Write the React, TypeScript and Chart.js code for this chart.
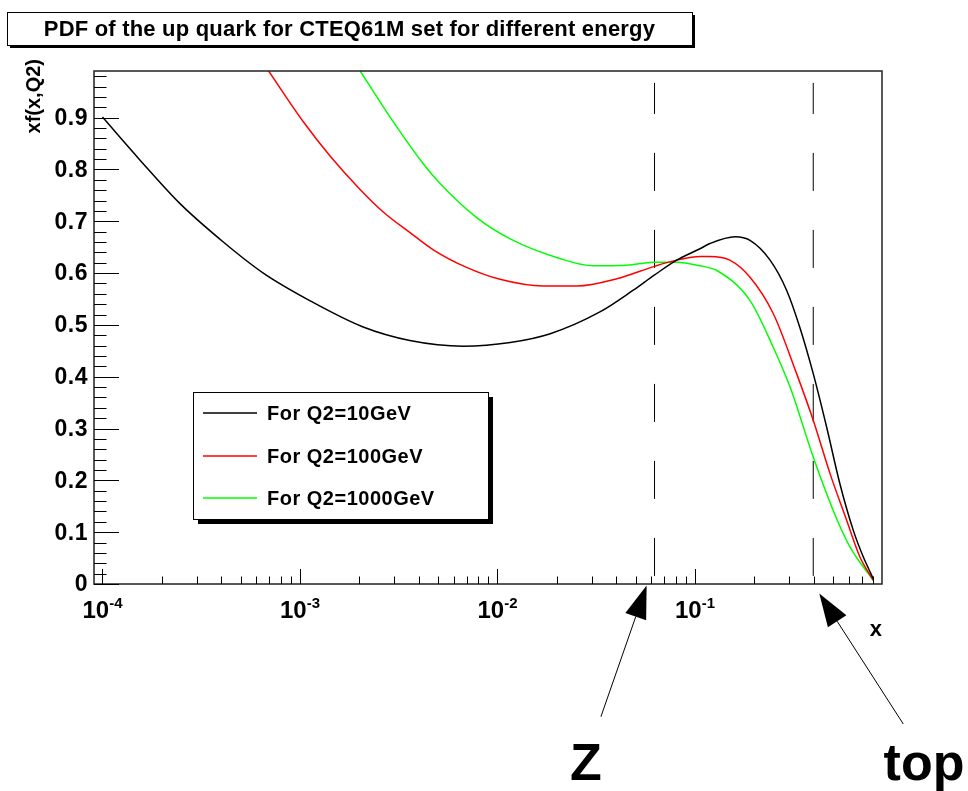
import React, { useEffect, useRef } from "react";
import { Chart, registerables } from "chart.js";

Chart.register(...registerables);

const TITLE = "PDF of the up quark for CTEQ61M set for different energy";
const Y_TITLE = "xf(x,Q2)";
const X_TITLE = "x";
const SERIES_LABELS = ["For Q2=10GeV", "For Q2=100GeV", "For Q2=1000GeV"];
const SERIES_COLORS = ["#000000", "#ff0000", "#00ff00"];

const X_Q10 = [1.0e-4, 1.55e-4, 2.47e-4, 4.09e-4, 6.52e-4, 1.12e-3, 2.09e-3, 3.6e-3, 6.7e-3, 1.16e-2, 1.85e-2, 3.3e-2, 4.87e-2, 6.22e-2, 8.08e-2, 0.106, 0.119, 0.16, 0.19, 0.24, 0.291, 0.339, 0.397, 0.464, 0.542, 0.634, 0.712, 0.8];
const Y_Q10 = [0.901, 0.818, 0.734, 0.66, 0.6, 0.547, 0.496, 0.47, 0.459, 0.466, 0.483, 0.525, 0.567, 0.596, 0.625, 0.647, 0.657, 0.67, 0.663, 0.625, 0.567, 0.496, 0.406, 0.303, 0.193, 0.103, 0.052, 0.01];

const X_Q100 = [6.91e-4, 1.04e-3, 1.42e-3, 2.01e-3, 2.64e-3, 3.61e-3, 4.73e-3, 6.98e-3, 1.03e-2, 1.71e-2, 2.52e-2, 4.02e-2, 6.22e-2, 8.08e-2, 0.106, 0.119, 0.15, 0.19, 0.249, 0.327, 0.397, 0.483, 0.586, 0.684, 0.8];
const Y_Q100 = [0.991, 0.892, 0.826, 0.762, 0.718, 0.678, 0.645, 0.611, 0.588, 0.575, 0.575, 0.589, 0.613, 0.625, 0.632, 0.632, 0.625, 0.592, 0.522, 0.406, 0.316, 0.213, 0.123, 0.052, 0.007];

const X_Q1000 = [2.01e-3, 2.86e-3, 4.21e-3, 5.12e-3, 7.85e-3, 1.16e-2, 2.07e-2, 3.05e-2, 4.51e-2, 6.15e-2, 8.08e-2, 0.106, 0.129, 0.19, 0.249, 0.303, 0.397, 0.501, 0.61, 0.8];
const Y_Q1000 = [0.991, 0.901, 0.811, 0.773, 0.707, 0.666, 0.628, 0.614, 0.615, 0.621, 0.621, 0.614, 0.605, 0.547, 0.457, 0.38, 0.245, 0.142, 0.071, 0.007];

const X_MIN = 9.06e-5;
const X_MAX = 0.885;
const Y_MIN = 0;
const Y_MAX = 0.99;
const Y_TICKS = [0, 0.1, 0.2, 0.3, 0.4, 0.5, 0.6, 0.7, 0.8, 0.9];
const Y_TICK_LABELS = ["0", "0.1", "0.2", "0.3", "0.4", "0.5", "0.6", "0.7", "0.8", "0.9"];
const X_DECADES = [-4, -3, -2, -1];
const X_DECADE_LABELS = ["-4", "-3", "-2", "-1"];

// vertical dashed marker lines (Z and top)
const MARKER_X = [0.0624, 0.397];
const MARKER_Y_TOP = 0.967;
const ANNOTATION_TEXT = ["Z", "top"];
const ARROW_TIP_X = [0.0569, 0.426];

const FONT = "'Liberation Sans', Arial, Helvetica, sans-serif";

function pair(xs: number[], ys: number[]) {
  return xs.map((x, i) => ({ x, y: ys[i] }));
}

function drawArrow(ctx: CanvasRenderingContext2D, x0: number, y0: number, x1: number, y1: number) {
  const dx = x1 - x0;
  const dy = y1 - y0;
  const len = Math.hypot(dx, dy);
  const ux = dx / len;
  const uy = dy / len;
  const hl = 33;
  const hw = 11;
  const bx = x1 - ux * hl;
  const by = y1 - uy * hl;
  ctx.beginPath();
  ctx.moveTo(x0, y0);
  ctx.lineTo(bx, by);
  ctx.strokeStyle = "#000";
  ctx.lineWidth = 1;
  ctx.stroke();
  ctx.beginPath();
  ctx.moveTo(x1, y1);
  ctx.lineTo(bx - uy * hw, by + ux * hw);
  ctx.lineTo(bx + uy * hw, by - ux * hw);
  ctx.closePath();
  ctx.fillStyle = "#000";
  ctx.fill();
}

function setSpacing(ctx: any, px: number) {
  if ("letterSpacing" in ctx) ctx.letterSpacing = `${px}px`;
}

const rootPlugin = {
  id: "rootStyle",
  afterDraw(chart: any) {
    const { ctx, chartArea: a, scales } = chart;
    const xs = scales.x;
    const ys = scales.y;
    ctx.save();

    // frame
    ctx.strokeStyle = "#222";
    ctx.lineWidth = 1.5;
    ctx.strokeRect(a.left, a.top, a.right - a.left, a.bottom - a.top);

    // y ticks (inside)
    ctx.strokeStyle = "#000";
    ctx.lineWidth = 1;
    const nMinor = Math.floor(Y_MAX / 0.02 + 1e-6);
    for (let i = 0; i <= nMinor; i++) {
      const v = i * 0.02;
      const py = Math.round(ys.getPixelForValue(v)) + 0.5;
      const len = i % 5 === 0 ? 25 : 12.5;
      ctx.beginPath();
      ctx.moveTo(a.left, py);
      ctx.lineTo(a.left + len, py);
      ctx.stroke();
    }
    // y labels
    ctx.fillStyle = "#000";
    ctx.font = `bold 23px ${FONT}`;
    setSpacing(ctx, 0.5);
    ctx.textAlign = "right";
    ctx.textBaseline = "middle";
    Y_TICKS.forEach((v, i) => {
      ctx.fillText(Y_TICK_LABELS[i], a.left - 6, ys.getPixelForValue(v) + 1);
    });
    setSpacing(ctx, 0);

    // x ticks (inside)
    for (let d = -5; d <= 0; d++) {
      for (let m = 1; m <= 9; m++) {
        const v = m * Math.pow(10, d);
        if (v < X_MIN || v > X_MAX) continue;
        const px = Math.round(xs.getPixelForValue(v)) + 0.5;
        const len = m === 1 ? 15 : 7.5;
        ctx.beginPath();
        ctx.moveTo(px, a.bottom);
        ctx.lineTo(px, a.bottom - len);
        ctx.stroke();
      }
    }
    // x labels 10^n
    X_DECADES.forEach((d, i) => {
      const px = xs.getPixelForValue(Math.pow(10, d));
      ctx.font = `bold 24px ${FONT}`;
      const w1 = ctx.measureText("10").width;
      ctx.font = `bold 15px ${FONT}`;
      const w2 = ctx.measureText(X_DECADE_LABELS[i]).width;
      const x0 = px - (w1 + w2) / 2;
      ctx.textAlign = "left";
      ctx.textBaseline = "alphabetic";
      ctx.font = `bold 24px ${FONT}`;
      ctx.fillText("10", x0, a.bottom + 34);
      ctx.font = `bold 15px ${FONT}`;
      ctx.fillText(X_DECADE_LABELS[i], x0 + w1, a.bottom + 24);
    });

    // axis titles
    ctx.font = `bold 22px ${FONT}`;
    ctx.textAlign = "right";
    ctx.textBaseline = "alphabetic";
    ctx.fillText(X_TITLE, a.right, a.bottom + 52);
    ctx.save();
    ctx.translate(40, a.top - 12);
    ctx.rotate(-Math.PI / 2);
    ctx.textAlign = "right";
    ctx.font = `bold 20px ${FONT}`;
    ctx.fillText(Y_TITLE, 0, 0);
    ctx.restore();

    // title box
    const tb = { l: 7, t: 12, r: 692, b: 45 };
    ctx.fillStyle = "#000";
    ctx.fillRect(tb.l + 3, tb.t + 3, tb.r - tb.l, tb.b - tb.t);
    ctx.fillStyle = "#fff";
    ctx.fillRect(tb.l, tb.t, tb.r - tb.l, tb.b - tb.t);
    ctx.strokeStyle = "#000";
    ctx.lineWidth = 1;
    ctx.strokeRect(tb.l + 0.5, tb.t + 0.5, tb.r - tb.l, tb.b - tb.t);
    ctx.fillStyle = "#000";
    ctx.font = `bold 22px ${FONT}`;
    setSpacing(ctx, 0.2);
    ctx.textAlign = "center";
    ctx.textBaseline = "middle";
    ctx.fillText(TITLE, (tb.l + tb.r) / 2, (tb.t + tb.b) / 2 + 1);
    setSpacing(ctx, 0);

    // legend box
    const lb = { l: 193, t: 392, r: 488, b: 519 };
    ctx.fillStyle = "#000";
    ctx.fillRect(lb.l + 5, lb.t + 5, lb.r - lb.l, lb.b - lb.t);
    ctx.fillStyle = "#fff";
    ctx.fillRect(lb.l, lb.t, lb.r - lb.l, lb.b - lb.t);
    ctx.strokeStyle = "#000";
    ctx.strokeRect(lb.l + 0.5, lb.t + 0.5, lb.r - lb.l, lb.b - lb.t);
    const rowY = [413, 456, 498];
    SERIES_LABELS.forEach((lab, i) => {
      ctx.strokeStyle = SERIES_COLORS[i];
      ctx.lineWidth = 1.5;
      ctx.beginPath();
      ctx.moveTo(203, rowY[i]);
      ctx.lineTo(257, rowY[i]);
      ctx.stroke();
      ctx.fillStyle = "#000";
      ctx.font = `bold 20px ${FONT}`;
      setSpacing(ctx, 0.5);
      ctx.textAlign = "left";
      ctx.textBaseline = "middle";
      ctx.fillText(lab, 267, rowY[i] + 1);
      setSpacing(ctx, 0);
    });

    // arrows + annotation text
    const tails = [
      { dx: -45.7, y: 716.7 },
      { dx: 84, y: 724 },
    ];
    const tipY = [a.bottom + 1.5, a.bottom + 9.5];
    ARROW_TIP_X.forEach((v, i) => {
      const tx = xs.getPixelForValue(v);
      drawArrow(ctx, tx + tails[i].dx, tails[i].y, tx, tipY[i]);
    });
    ctx.fillStyle = "#000";
    ctx.font = `bold 52px ${FONT}`;
    ctx.textAlign = "center";
    ctx.textBaseline = "alphabetic";
    ctx.fillText(ANNOTATION_TEXT[0], 586, 780);
    ctx.fillText(ANNOTATION_TEXT[1], 924, 780);

    ctx.restore();
  },
};

export default function App() {
  const ref = useRef<HTMLCanvasElement>(null);
  useEffect(() => {
    const canvas = ref.current;
    if (!canvas) return;
    const lineDs = (label: string, xsArr: number[], ysArr: number[], color: string) => ({
      label,
      data: pair(xsArr, ysArr),
      borderColor: color,
      backgroundColor: color,
      borderWidth: 1.5,
      pointRadius: 0,
      fill: false,
      cubicInterpolationMode: "monotone" as const,
    });
    const markerDs = (x: number) => ({
      label: "marker",
      data: [
        { x, y: MARKER_Y_TOP },
        { x, y: Y_MIN },
      ],
      borderColor: "#000",
      borderWidth: 1,
      borderDash: [38, 39],
      borderDashOffset: 7,
      pointRadius: 0,
      fill: false,
    });
    const chart = new Chart(canvas, {
      type: "line",
      data: {
        datasets: [
          lineDs(SERIES_LABELS[0], X_Q10, Y_Q10, SERIES_COLORS[0]),
          lineDs(SERIES_LABELS[1], X_Q100, Y_Q100, SERIES_COLORS[1]),
          lineDs(SERIES_LABELS[2], X_Q1000, Y_Q1000, SERIES_COLORS[2]),
          markerDs(MARKER_X[0]),
          markerDs(MARKER_X[1]),
        ] as any,
      },
      options: {
        animation: false,
        responsive: false,
        devicePixelRatio: 1,
        layout: { padding: { left: 94, top: 71, right: 86, bottom: 207 } },
        scales: {
          x: { type: "logarithmic", min: X_MIN, max: X_MAX, display: false },
          y: { type: "linear", min: Y_MIN, max: Y_MAX, display: false },
        },
        plugins: {
          legend: { display: false },
          tooltip: { enabled: false },
          title: { display: false },
        },
        elements: { point: { radius: 0 } },
      },
      plugins: [rootPlugin],
    });
    return () => chart.destroy();
  }, []);
  return (
    <div style={{ position: "absolute", left: 0, top: 0, width: 968, height: 791, background: "#fff" }}>
      <canvas ref={ref} width={968} height={791} style={{ display: "block", width: 968, height: 791 }} />
    </div>
  );
}
